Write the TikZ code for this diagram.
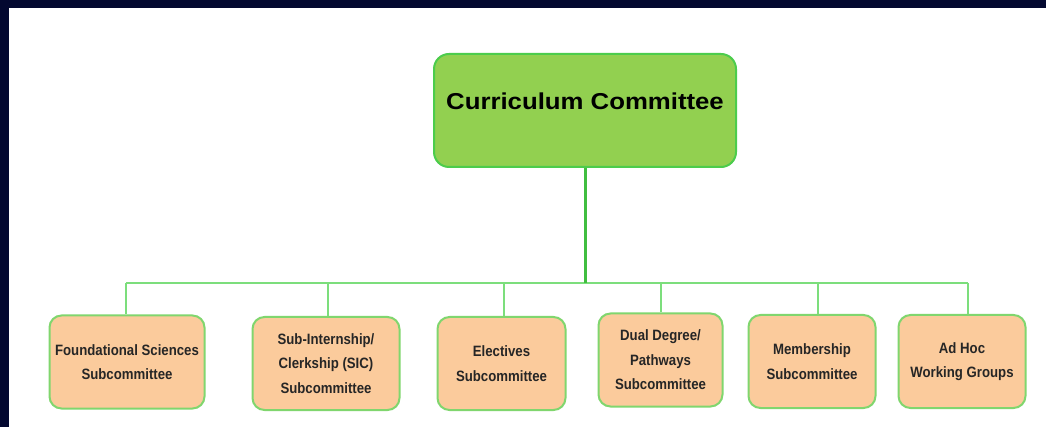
\documentclass[tikz,border=0pt]{standalone}
\usepackage{fontspec}
\setmainfont{Liberation Sans}
\newfontfamily\boxfont{Liberation Sans}[FakeStretch=0.88]
\newfontfamily\headfont{Liberation Sans}[FakeStretch=1.12]
\usetikzlibrary{positioning}
\definecolor{frameblue}{RGB}{3,8,48}
\definecolor{headgreen}{RGB}{146,208,80}
\definecolor{headedge}{RGB}{76,204,76}
\definecolor{peach}{RGB}{251,203,156}
\definecolor{peachedge}{RGB}{128,214,110}
\definecolor{busgreen}{RGB}{124,222,124}
\definecolor{stemgreen}{RGB}{64,190,64}
\begin{document}
\begin{tikzpicture}[x=1pt,y=-1pt,
  headbox/.style={draw=headedge,line width=2pt,fill=headgreen,rounded corners=15pt,
    minimum width=302pt,minimum height=113pt},
  headtext/.style={font=\headfont\bfseries\fontsize{23}{28}\selectfont,text=black},
  subbox/.style={draw=peachedge,line width=2pt,fill=peach,rounded corners=12pt,
    minimum height=93pt,align=center,inner sep=0pt,
    font=\boxfont\bfseries\fontsize{15}{24.5}\selectfont,text=black!85},
  bus/.style={busgreen,line width=1.6pt},
  drop/.style={busgreen,line width=1.6pt}]

\useasboundingbox (0,0) rectangle (1046,427);
\fill [white] (0,0) rectangle (1046,427);
\fill [frameblue] (0,0) rectangle (1046,8);
\fill [frameblue] (0,0) rectangle (9,427);

\node [headbox] (cc) at (585,110.5) {};
\node [headtext] (cctext) at ([yshift=9pt]cc.center) {Curriculum Committee};

\node [subbox,minimum width=155pt] (fs) at (127,362) {Foundational Sciences\\Subcommittee};
\node [subbox,minimum width=147pt] (sic) at (326,363.5) {Sub-Internship/\\Clerkship (SIC)\\Subcommittee};
\node [subbox,minimum width=128pt] (el) at (501.5,363.5) {Electives\\Subcommittee};
\node [subbox,minimum width=124pt] (dd) at (660.5,360) {Dual Degree/\\Pathways\\Subcommittee};
\node [subbox,minimum width=127pt] (mb) at (812,361.5) {Membership\\Subcommittee};
\node [subbox,minimum width=127pt] (ah) at (962,361.5) {Ad Hoc\\Working Groups};

\coordinate (stem) at (585.5,283);
\coordinate (d1) at (126,283);
\coordinate (d2) at (328,283);
\coordinate (d3) at (504,283);
\coordinate (d4) at (661,283);
\coordinate (d5) at (818,283);
\coordinate (d6) at (968,283);

\draw [bus] (d1) -- (d6);
\draw [stemgreen,line width=2.4pt] (cc.south -| stem) -- (stem);
\foreach \d/\b in {d1/fs,d2/sic,d3/el,d4/dd,d5/mb,d6/ah}
  \draw [drop] (\d) -- (\d |- \b.north);

\end{tikzpicture}
\end{document}
